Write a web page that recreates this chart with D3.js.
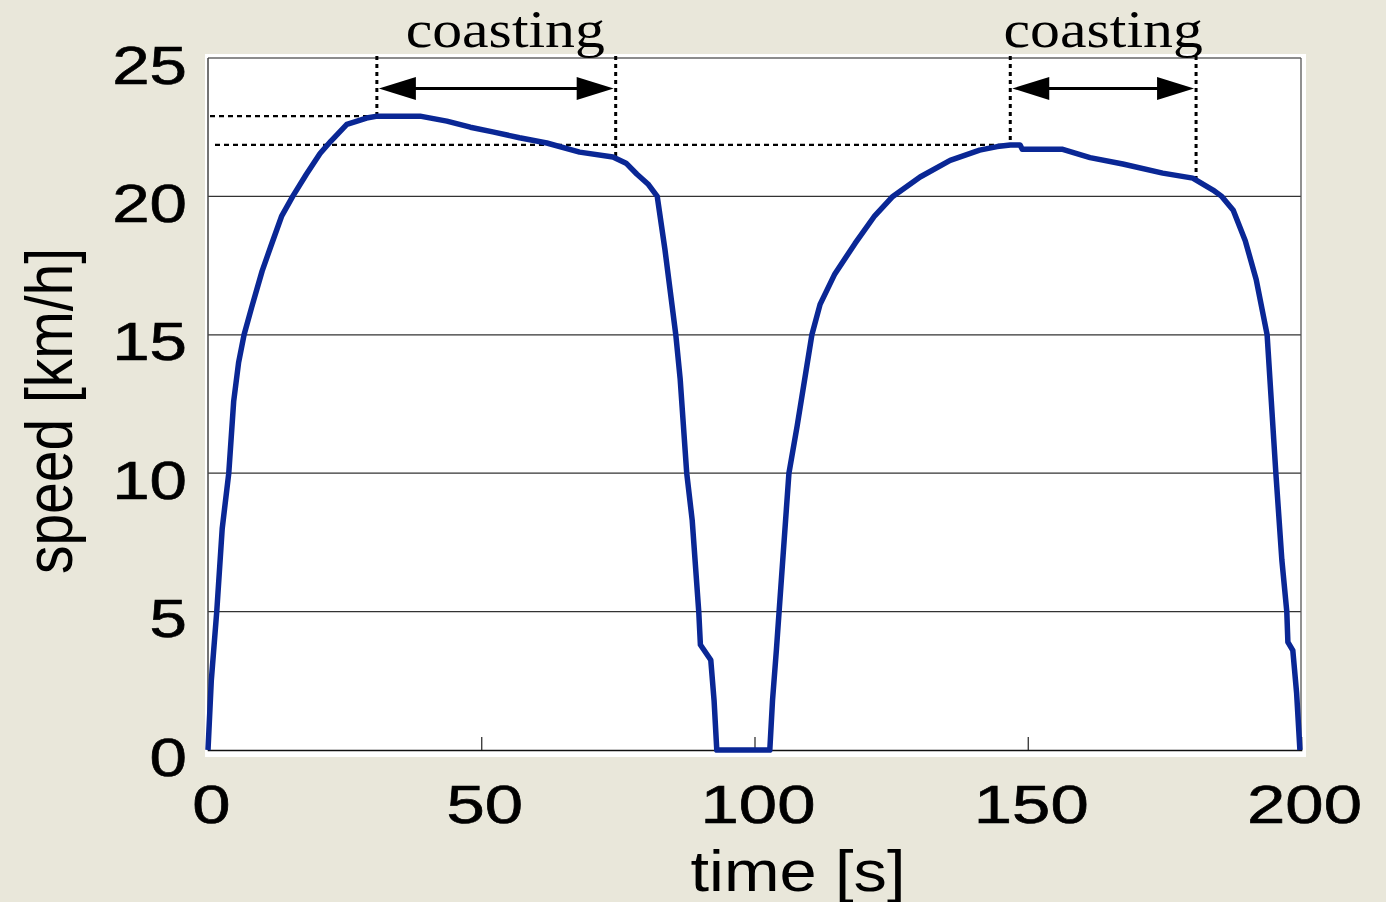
<!DOCTYPE html>
<html>
<head>
<meta charset="utf-8">
<script src="https://cdn.jsdelivr.net/npm/d3@7/dist/d3.min.js"></script>
<style>
  body { margin: 0; background: #e9e7da; }
</style>
</head>
<body>
<svg width="1386" height="902"></svg>
<script>
// data
var timeS = [0, 0.6, 1.6, 2.6, 3.8, 4.7, 5.6, 6.6, 8, 9.9, 11.5, 13.5, 15.5, 18, 20.5, 22.5, 25.4, 27, 29, 31,
  38.8, 43.7, 48, 52.1, 57, 62, 68, 74.1, 76.5, 78.5, 80.5, 82.2, 83.6, 85.6, 86.4, 87.6, 88.6, 89.8, 90.1, 92, 92.6, 93.1,
  102.8, 103.3, 104, 104.5, 106.3, 107.8, 110.5, 112, 114.7, 118.4, 122, 125.3, 130.3, 135.8, 141.2, 144.4, 146.8, 148.6, 149,
  156.4, 161.4, 167.4, 174.7, 180.2, 183.9, 185.5, 187.6, 189.8, 191.8, 193.8, 195.4, 196.5, 197.4, 197.6, 198.5, 199.2, 199.8];
var speed = [0, 2.5, 5, 8, 10, 12.6, 14, 15, 16, 17.3, 18.2, 19.3, 20, 20.8, 21.55, 22, 22.6, 22.7, 22.83, 22.9,
  22.9, 22.72, 22.5, 22.33, 22.12, 21.93, 21.6, 21.42, 21.2, 20.8, 20.45, 20, 18.1, 15, 13.4, 10, 8.3, 5, 3.8, 3.25, 1.8, 0,
  0, 1.8, 3.6, 5, 10, 11.7, 15, 16.1, 17.2, 18.3, 19.3, 20, 20.7, 21.3, 21.67, 21.8, 21.86, 21.86, 21.7,
  21.7, 21.4, 21.17, 20.84, 20.66, 20.23, 20, 19.5, 18.4, 17, 15, 10, 6.86, 5, 3.9, 3.6, 2.05, 0];

var xTicks = [0, 50, 100, 150, 200];
var yTicks = [0, 5, 10, 15, 20, 25];
var gridVals = [5, 10, 15, 20];

var coastStart = [30.9, 146.8],
    coastEnd = [74.6, 180.8],
    coastStartV = [22.9, 21.86],   // curve value where the dotted line stops
    coastEndV = [21.4, 20.62],
    arrowV = 23.9,
    coastLabel = "coasting";

var svg = d3.select("svg"),
    margin = {top: 58, right: 85, bottom: 152, left: 208},
    width = 1386 - margin.left - margin.right,
    height = 902 - margin.top - margin.bottom,
    g = svg.append("g").attr("transform", "translate(" + margin.left + "," + margin.top + ")");

var x = d3.scaleLinear().domain([0, 200]).range([0, width]);
var y = d3.scaleLinear().domain([0, 25]).range([height, 0]);

// white plot paper
g.append("rect")
    .attr("x", -3).attr("y", -4)
    .attr("width", width + 8).attr("height", height + 11)
    .attr("fill", "#fff");

// grid
g.selectAll(".grid").data(gridVals).enter().append("line")
    .attr("x1", 0).attr("x2", width)
    .attr("y1", function(d) { return y(d); }).attr("y2", function(d) { return y(d); })
    .attr("stroke", "#333").attr("stroke-width", 1.2);

// frame
g.append("line").attr("x1", 0).attr("x2", width).attr("y1", 0).attr("y2", 0)
    .attr("stroke", "#666").attr("stroke-width", 1.5);
g.append("line").attr("x1", width).attr("x2", width).attr("y1", 0).attr("y2", height)
    .attr("stroke", "#555").attr("stroke-width", 1.3);
g.append("line").attr("x1", 0).attr("x2", 0).attr("y1", 0).attr("y2", height)
    .attr("stroke", "#444").attr("stroke-width", 1.5);

var tickFont = "53px 'Liberation Sans', Arial, sans-serif";

// x axis, ticks pointing inward
var xa = g.append("g")
    .attr("transform", "translate(0," + height + ")")
    .call(d3.axisBottom(x).tickValues(xTicks).tickSize(-13).tickPadding(0));
xa.select(".domain").attr("stroke", "#111").attr("stroke-width", 1.6);
xa.selectAll(".tick line").attr("stroke", "#222").attr("stroke-width", 1.2)
    .filter(function(d) { return d === 0 || d === 200; }).remove();
xa.selectAll("text")
    .attr("dy", null).attr("y", 73)
    .attr("transform", "translate(3,0) scale(1.3,1)")
    .style("font", tickFont)
    .attr("fill", "#000").attr("stroke", "#000").attr("stroke-width", 0.6);

// y axis
var ya = g.append("g")
    .call(d3.axisLeft(y).tickValues(yTicks).tickSize(0).tickPadding(0));
ya.select(".domain").remove();
ya.selectAll("text")
    .attr("dy", null).attr("y", 25).attr("x", -16.5)
    .attr("transform", "scale(1.27,1)")
    .style("font", tickFont)
    .attr("fill", "#000").attr("stroke", "#000").attr("stroke-width", 0.6);

// axis titles
svg.append("text")
    .attr("transform", "translate(798,891) scale(1.17,1)")
    .attr("text-anchor", "middle")
    .style("font", "57px 'Liberation Sans', Arial, sans-serif")
    .text("time [s]");
svg.append("text")
    .attr("transform", "translate(72,411) rotate(-90) scale(1,1.17)")
    .attr("text-anchor", "middle")
    .style("font", "57px 'Liberation Sans', Arial, sans-serif")
    .text("speed [km/h]");

// dashed reference lines at the two peaks
g.selectAll(".peak").data(coastStart).enter().append("line")
    .attr("x1", function(d, i) { return i === 0 ? 2 : 7; })
    .attr("x2", function(d) { return x(d); })
    .attr("y1", function(d, i) { return y(coastStartV[i]); })
    .attr("y2", function(d, i) { return y(coastStartV[i]); })
    .attr("stroke", "#000").attr("stroke-width", 2.2)
    .attr("stroke-dasharray", "5,4");

// dotted vertical markers
var marks = coastStart.map(function(d, i) { return {t: d, v: coastStartV[i]}; })
    .concat(coastEnd.map(function(d, i) { return {t: d, v: coastEndV[i]}; }));
g.selectAll(".mark").data(marks).enter().append("line")
    .attr("x1", function(d) { return x(d.t); }).attr("x2", function(d) { return x(d.t); })
    .attr("y1", -2).attr("y2", function(d) { return y(d.v); })
    .attr("stroke", "#000").attr("stroke-width", 3)
    .attr("stroke-dasharray", "4,4");

// speed trace
var line = d3.line()
    .x(function(d) { return x(d[0]); })
    .y(function(d) { return y(d[1]); });
g.append("path")
    .datum(timeS.map(function(t, i) { return [t, speed[i]]; }))
    .attr("d", line)
    .attr("fill", "none")
    .attr("stroke", "#0a2795")
    .attr("stroke-width", 5.5)
    .attr("stroke-linejoin", "round");

// double-headed arrows + labels
coastStart.forEach(function(t0, i) {
  var a = x(t0) + 2, b = x(coastEnd[i]) - 2, yy = y(arrowV), L = 37, H = 11.5;
  g.append("line").attr("x1", a + 20).attr("x2", b - 20).attr("y1", yy).attr("y2", yy)
      .attr("stroke", "#000").attr("stroke-width", 3);
  g.append("path")
      .attr("d", "M" + a + "," + yy + "L" + (a + L) + "," + (yy - H) + "L" + (a + L) + "," + (yy + H) + "Z")
      .attr("fill", "#000");
  g.append("path")
      .attr("d", "M" + b + "," + yy + "L" + (b - L) + "," + (yy - H) + "L" + (b - L) + "," + (yy + H) + "Z")
      .attr("fill", "#000");
  g.append("text")
      .attr("transform", "translate(" + ((a + b) / 2 + (i === 0 ? 9 : 0)) + "," + (47 - margin.top) + ") scale(1.15,1)")
      .attr("text-anchor", "middle")
      .style("font", "52px 'Liberation Serif', 'Times New Roman', serif")
      .text(coastLabel);
});
</script>
</body>
</html>
